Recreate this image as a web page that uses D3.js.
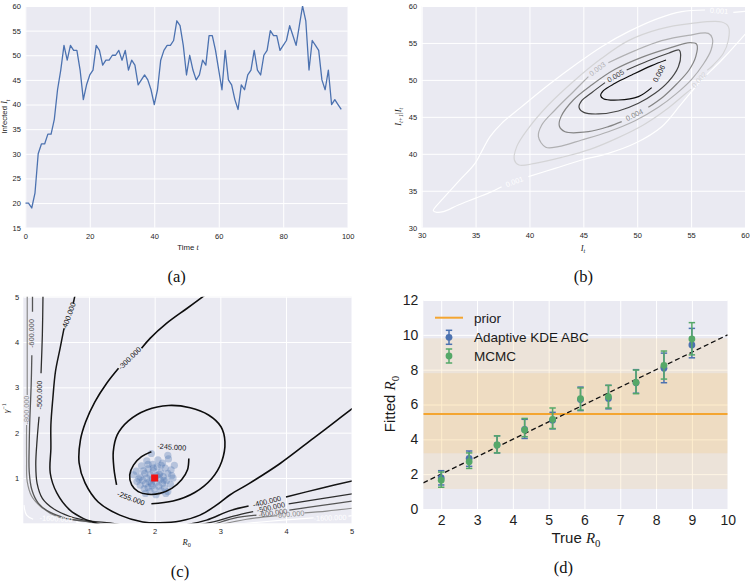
<!DOCTYPE html>
<html><head><meta charset="utf-8">
<script src="https://cdn.jsdelivr.net/npm/d3@7/dist/d3.min.js"></script>
<style>html,body{margin:0;padding:0;background:#fff;}svg{display:block;}</style>
</head><body>
<svg id="fig" width="750" height="582"></svg>
<script>
// ================= DATA =================
// (a) infected time series, t = 0..98
const infected = [20,20,19,22,30,32,32,34,34,37,43,47,52,49,52,51,51,47,41,44,
46,47,52,51,48,49,49,50,50,51,49,51,47,49,48,44,45,46,45,43,
40,43,49,51,52,52,53,57,56,52,46,50,47,45,46,49,48,54,54,51,
47,43,51,45,44,41,39,44,43,46,47,51,47,46,50,51,55,54,54,51,
52,53,56,54,52,56,60,57,47,53,52,51,45,43,47,40,41,40,39];
const aXTicks = [0,20,40,60,80,100];
const aYTicks = [15,20,25,30,35,40,45,50,55,60];

// (b) transition density contours, [I_t, I_{t+1}] vertices per segment
const bTicks = [30,35,40,45,50,55,60];
const b001 = [
 [[56.29,59.46],[54.13,59.23],[51.96,58.33],[49.18,56.53],[46.70,54.50],[44.23,52.02],[41.75,49.31],[39.28,46.38],[37.42,44.12],[36.34,42.32],[35.72,40.74],[34.95,38.71],[33.40,36.23],[31.86,33.75],[31.08,32.30],[31.39,32.08],[32.01,32.17],[33.40,33.07],[34.95,33.97],[36.50,34.88],[37.42,35.55]],
 [[39.90,36.91],[42.37,38.03],[44.85,39.16],[47.32,40.06],[49.80,41.42],[52.27,43.67],[54.13,46.83],[55.98,49.99],[57.84,52.69],[60.2,56.5]],
 [[58.92,59.14],[60.2,59.3]]];
const b001Lab = [[38.60,36.23,-20],[57.59,59.32,4]];
const b002 = [[[55.0,48.75],[54.44,48.09],[52.73,46.02],[50.57,43.90],[48.09,42.09],[45.62,40.60],[42.99,39.52],[40.52,38.71],[39.03,38.48],[38.60,39.16],[38.82,40.97],[39.90,43.45],[41.75,46.60],[44.23,49.99],[46.70,52.92],[49.18,55.31],[51.96,56.84],[55.05,57.65],[57.84,57.83],[58.46,57.20],[58.46,55.40],[57.99,53.60],[57.06,52.02],[56.5,51.3]]];
const b002Lab = [[55.75,50.0,-49]];
const b003 = [[[47.32,52.33],[49.80,53.96],[52.27,55.31],[54.74,56.03],[56.60,56.30],[56.97,55.62],[56.85,54.05],[56.14,52.15],[55.05,50.08],[53.66,48.18],[51.96,46.29],[49.80,44.48],[47.32,42.99],[44.85,41.87],[42.68,40.97],[41.51,40.88],[40.83,42.32],[41.14,43.90],[42.37,45.93],[44.23,48.63],[45.47,50.44]]];
const b003Lab = [[46.30,51.47,-36]];
const b004 = [[[51.03,46.29],[52.42,47.73],[53.66,49.44],[54.81,51.34],[55.43,53.14],[55.52,54.81],[54.90,55.04],[52.89,54.27],[50.41,53.05],[47.94,51.43],[45.77,49.31],[44.07,47.28],[42.93,45.03],[42.77,43.76],[43.30,42.99],[45.47,42.99],[47.32,43.67],[48.56,44.35]]];
const b004Lab = [[49.73,45.25,-26]];
const b005 = [[[49.02,51.34],[51.03,52.60],[52.89,53.60],[53.88,54.05],[54.03,53.37],[53.82,51.79],[52.89,49.76],[51.65,48.18],[50.11,46.83],[48.25,45.79],[46.39,45.39],[45.09,45.57],[44.60,46.29],[44.85,47.19],[45.77,48.27],[47.01,49.63]]];
const b005Lab = [[48.00,50.53,-30]];
const b006 = [[[52.67,52.69],[51.34,51.93],[49.49,50.66],[47.94,49.54],[46.86,48.54],[46.61,47.87],[46.86,47.46],[48.25,47.28],[50.11,47.73],[51.34,48.95]]];
const b006Lab = [[52.02,50.85,-62]];

// (c) log-likelihood contours over [R0, gamma^-1]
const cTicks = [1,2,3,4,5];
const c245 = [[[1.95,1.58],[1.80,1.47],[1.68,1.29],[1.62,1.07],[1.65,0.85],[1.75,0.70],[1.90,0.64],[2.08,0.66],[2.26,0.77],[2.41,0.96],[2.50,1.18],[2.52,1.43]]];
const c245Lab = [[2.26,1.68,4]];
const c255 = [[[1.95,0.43],[2.28,0.49],[2.61,0.68],[2.87,0.99],[3.02,1.36],[3.07,1.80],[3.01,2.13],[2.82,2.39],[2.54,2.55],[2.21,2.60],[1.88,2.50],[1.60,2.26],[1.43,1.95],[1.37,1.58],[1.38,1.21],[1.42,0.85]]];
const c255Lab = [[1.64,0.55,20]];
const c300 = [[[2.78,5.05],[2.49,4.74],[2.18,4.41],[1.93,4.08],[1.80,3.86]],
 [[1.45,3.42],[1.27,3.09],[1.09,2.68],[0.95,2.24],[0.87,1.84],[0.85,1.33],[0.94,0.89],[1.14,0.47],[1.47,0.18],[1.82,0.03],[2.08,0.01],[2.39,0.05],[2.69,0.18],[2.94,0.40],[3.15,0.63],[3.43,0.87],[3.91,1.32],[4.42,1.88],[4.72,2.21],[5.05,2.58]]];
const c300Lab = [[1.62,3.64,-45]];
const c400 = [[[0.79,5.05],[0.76,4.85]],
 [[0.62,4.30],[0.56,3.86],[0.49,3.35],[0.45,2.76],[0.42,2.17],[0.42,1.65],[0.41,1.11],[0.51,0.67],[0.71,0.29],[0.91,0.11],[1.06,0.03],[1.17,-0.03]],
 [[2.49,-0.03],[2.79,0.07],[3.15,0.28],[3.43,0.38]],
 [[4.0,0.58],[4.52,0.77],[5.05,0.95]]];
const c400Lab = [[0.69,4.57,-70],[3.71,0.48,-14]];
const c500 = [[[0.30,5.05],[0.29,4.15],[0.27,3.31]],
 [[0.24,2.35],[0.21,1.84],[0.19,1.29],[0.21,0.88],[0.29,0.55],[0.46,0.32],[0.71,0.15],[1.02,0.05],[1.32,0.01],[1.47,-0.03]],
 [[2.69,-0.03],[2.94,0.05],[3.20,0.16],[3.50,0.26]],
 [[4.04,0.43],[4.52,0.54],[5.05,0.66]]];
const c500Lab = [[0.25,2.83,-90],[3.77,0.35,-12]];
const c600 = [[[0.14,5.05],[0.14,4.67]],
 [[0.13,3.71],[0.12,3.05],[0.10,2.32],[0.09,1.73],[0.09,1.14],[0.13,0.74],[0.23,0.44],[0.41,0.24],[0.66,0.11],[1.02,0.03],[1.27,-0.03]],
 [[2.89,-0.03],[3.20,0.11],[3.55,0.18]],
 [[4.05,0.29],[4.52,0.39],[5.05,0.50]]];
const c600Lab = [[0.13,4.19,-90],[3.80,0.23,-8]];
const c800 = [[[0.06,5.05],[0.06,2.83]],
 [[0.05,2.17],[0.05,1.43],[0.06,0.92],[0.13,0.59],[0.28,0.35],[0.53,0.14],[0.91,0.05],[1.17,-0.03]],
 [[3.0,-0.03],[3.40,0.09],[3.86,0.17]],
 [[4.28,0.23],[4.62,0.27],[5.05,0.34]]];
const c800Lab = [[0.05,2.50,-90],[4.06,0.20,-5]];
const c1600 = [[[0.01,0.40],[0.05,0.18],[0.15,0.09]],
 [[0.80,0.03],[0.97,-0.03]],
 [[3.20,-0.03],[3.71,0.04],[4.31,0.11],[4.42,0.12]],
 [[4.95,0.16],[5.05,0.18]]];
const c1600Lab = [[0.50,0.10,3],[4.67,0.12,-2]];
// posterior samples (R0, gamma^-1) and true parameter
const postR0 = [1.95,2.20,2.21,2.05,1.88,2.12,1.97,2.30,1.80,2.04,2.16,1.90,2.25,1.72,1.98,2.09,1.85,2.20,1.68,1.93,2.03,2.13,1.78,1.88,2.28,1.97,2.08,1.82,2.18,1.73,1.92,2.02,2.12,1.86,2.24,1.78,1.96,2.06,1.90,2.15,1.84,2.00,2.10,1.93,2.20,2.17,1.86,2.02,1.98,2.10,1.83,2.00,1.95,2.07,1.76,2.26,1.90,2.14];
const postGammaInv = [1.54,1.50,1.42,1.40,1.38,1.33,1.30,1.28,1.27,1.25,1.22,1.20,1.18,1.15,1.15,1.12,1.10,1.10,1.07,1.07,1.05,1.03,1.02,1.00,1.00,0.98,0.97,0.95,0.94,0.92,0.92,0.90,0.88,0.87,0.86,0.84,0.83,0.82,0.79,0.78,0.76,0.75,0.72,0.70,0.70,0.66,0.66,0.63,1.22,1.28,1.16,1.00,0.88,1.08,0.98,1.05,1.30,0.95];
const trueParam = [2.0, 1.0];

// (d) fitted vs true R0
const dXTicks = [2,3,4,5,6,7,8,9,10];
const dYTicks = [0,2,4,6,8,10,12];
const trueR0 = [2.0,2.78,3.56,4.33,5.11,5.89,6.67,7.44,8.22,9.0];
const abcMean = [1.78,2.90,3.68,4.57,5.10,6.28,6.35,7.25,8.08,9.42];
const abcLow  = [1.38,2.45,3.22,4.05,4.60,5.65,5.75,6.65,7.25,8.68];
const abcHigh = [2.20,3.33,4.20,5.15,5.55,7.00,7.10,8.00,8.95,10.37];
const mcmcMean = [1.65,2.72,3.68,4.54,5.15,6.33,6.45,7.27,8.25,9.76];
const mcmcLow  = [1.25,2.33,3.22,4.15,4.62,5.68,5.80,6.62,7.46,8.85];
const mcmcHigh = [2.12,3.22,4.20,5.20,5.80,6.95,7.10,7.98,9.07,10.70];
const priorMean = 5.45;
const priorBand1 = [3.2, 7.8];
const priorBand2 = [1.15, 9.8];
const identityLine = [[1.5,1.5],[10,10]];

// ================= DRAWING =================
const SANS = "'Liberation Sans', Arial, Helvetica, sans-serif";
const SERIF = "'Liberation Serif', 'DejaVu Serif', serif";
const BG = "#EAEAF2";
const svg = d3.select("#fig");
let clipId = 0;

function frame(box, xDom, yDom, xTicks, yTicks, fs, xpad, ypad) {
  const x = d3.scaleLinear().domain(xDom).range([box.x0, box.x1]);
  const y = d3.scaleLinear().domain(yDom).range([box.y1, box.y0]);
  const g = svg.append("g");
  g.append("rect").attr("x", box.x0).attr("y", box.y0)
    .attr("width", box.x1 - box.x0).attr("height", box.y1 - box.y0).attr("fill", BG);
  const gx = g.append("g").attr("transform", `translate(0,${box.y1})`)
    .call(d3.axisBottom(x).tickValues(xTicks).tickSize(-(box.y1 - box.y0)).tickPadding(xpad).tickFormat(d3.format("d")));
  const gy = g.append("g").attr("transform", `translate(${box.x0},0)`)
    .call(d3.axisLeft(y).tickValues(yTicks).tickSize(-(box.x1 - box.x0)).tickPadding(ypad).tickFormat(d3.format("d")));
  [gx, gy].forEach(a => {
    a.select(".domain").remove();
    a.selectAll(".tick line").attr("stroke", "#fff").attr("stroke-width", 1);
    a.selectAll("text").attr("font-family", SANS).attr("font-size", fs).attr("fill", "#1e1e1e");
  });
  const id = "clip" + (clipId++);
  svg.append("clipPath").attr("id", id).append("rect")
    .attr("x", box.x0).attr("y", box.y0).attr("width", box.x1 - box.x0).attr("height", box.y1 - box.y0);
  const inner = g.append("g").attr("clip-path", `url(#${id})`);
  return {x, y, g, inner};
}

function mathText(x, y, parts, size, rotate, anchor) {
  const t = svg.append("text").attr("x", x).attr("y", y)
    .attr("text-anchor", anchor || "middle").attr("font-size", size)
    .attr("font-family", SANS).attr("fill", "#1a1a1a");
  if (rotate) t.attr("transform", `rotate(${rotate},${x},${y})`);
  let shift = 0;
  parts.forEach(p => {
    const ts = t.append("tspan").text(p.t);
    if (p.it) ts.attr("font-family", SERIF).attr("font-style", "italic");
    if (p.serif) ts.attr("font-family", SERIF);
    let target = 0;
    if (p.sub) { ts.attr("font-size", size * 0.72); target = size * 0.28; }
    else if (p.sup) { ts.attr("font-size", size * 0.72); target = -size * 0.38; }
    if (target - shift !== 0) ts.attr("dy", target - shift);
    shift = target;
  });
  return t;
}

function caption(x, y, s) {
  svg.append("text").attr("x", x).attr("y", y).attr("text-anchor", "middle")
    .attr("font-family", SERIF).attr("font-size", 16.5).attr("fill", "#111").text(s);
}

function contours(P, segs, labs, text, color, width) {
  const ln = d3.line().x(d => P.x(d[0])).y(d => P.y(d[1])).curve(d3.curveCatmullRom.alpha(0.5));
  P.inner.selectAll(null).data(segs).enter().append("path")
    .attr("d", ln).attr("fill", "none").attr("stroke", color).attr("stroke-width", width);
  labs.forEach(l => {
    const px = P.x(l[0]), py = P.y(l[1]);
    P.g.append("text").attr("x", px).attr("y", py)
      .attr("text-anchor", "middle").attr("dominant-baseline", "central")
      .attr("transform", `rotate(${l[2]},${px},${py})`)
      .attr("font-family", SANS).attr("font-size", 7.3).attr("fill", color).text(text);
  });
}

// ---------- (a) ----------
const A = frame({x0: 25.3, x1: 347.7, y0: 6, y1: 227.7}, [0, 100], [15, 60], aXTicks, aYTicks, 7.5, 6, 4.5);
A.inner.append("path").datum(infected)
  .attr("d", d3.line().x((d, i) => A.x(i)).y(d => A.y(d)))
  .attr("fill", "none").attr("stroke", "#4C72B0").attr("stroke-width", 1.3).attr("stroke-linejoin", "round");
mathText(188, 250, [{t: "Time "}, {t: "t", it: true}], 7.8);
mathText(7.5, 116.7, [{t: "Infected "}, {t: "I", it: true}, {t: "t", it: true, sub: true}], 7.8, -90);
caption(176.7, 282, "(a)");

// ---------- (b) ----------
const B = frame({x0: 421.7, x1: 745, y0: 6, y1: 227.7}, [30, 60], [30, 60], bTicks, bTicks, 7.5, 5, 4.5);
contours(B, b001, b001Lab, "0.001", "#ffffff", 1.2);
contours(B, b002, b002Lab, "0.002", "#d4d4d6", 1.2);
contours(B, b003, b003Lab, "0.003", "#b0b0b2", 1.2);
contours(B, b004, b004Lab, "0.004", "#858585", 1.2);
contours(B, b005, b005Lab, "0.005", "#454545", 1.2);
contours(B, b006, b006Lab, "0.006", "#0d0d0d", 1.2);
mathText(583, 250.5, [{t: "I", it: true}, {t: "t", it: true, sub: true}], 8.5);
mathText(401, 116.7, [{t: "I", it: true}, {t: "t+1", it: true, sub: true}, {t: "|", serif: true}, {t: "I", it: true}, {t: "t", it: true, sub: true}], 8.5, -90);
caption(583.3, 282, "(b)");

// ---------- (c) ----------
const C = frame({x0: 23.3, x1: 351.7, y0: 296.7, y1: 523.3}, [0, 5], [0, 5], cTicks, cTicks, 7.5, 5.5, 4.2);
C.inner.selectAll("circle").data(postR0).enter().append("circle")
  .attr("cx", d => C.x(d)).attr("cy", (d, i) => C.y(postGammaInv[i]))
  .attr("r", 3.6).attr("fill", "#4C72B0").attr("fill-opacity", 0.33);
contours(C, c1600, c1600Lab, "-1600.000", "#ffffff", 1.2);
contours(C, c800, c800Lab, "-800.000", "#8c8c8c", 1.2);
contours(C, c600, c600Lab, "-600.000", "#555555", 1.3);
contours(C, c500, c500Lab, "-500.000", "#2e2e2e", 1.3);
contours(C, c400, c400Lab, "-400.000", "#151515", 1.5);
contours(C, c300, c300Lab, "-300.000", "#0d0d0d", 1.6);
contours(C, c255, c255Lab, "-255.000", "#0d0d0d", 1.6);
contours(C, c245, c245Lab, "-245.000", "#0d0d0d", 1.6);
C.inner.append("rect").datum(trueParam)
  .attr("x", d => C.x(d[0]) - 3.5).attr("y", d => C.y(d[1]) - 3.5)
  .attr("width", 7).attr("height", 7).attr("fill", "#F01414");
mathText(186.7, 545, [{t: "R", it: true}, {t: "0", serif: true, sub: true}], 8.5);
mathText(9, 408, [{t: "γ", it: true}, {t: "−1", serif: true, sup: true}], 8.5, -90);
caption(180, 577, "(c)");

// ---------- (d) ----------
const D = frame({x0: 423.3, x1: 727.7, y0: 300, y1: 509}, [1.5, 10], [0, 12], dXTicks, dYTicks, 14, 6, 5);
const prior = "#F4A530";
[priorBand2, priorBand1].forEach(b => {
  D.inner.append("rect").attr("x", D.x(1.5)).attr("width", D.x(10) - D.x(1.5))
    .attr("y", D.y(b[1])).attr("height", D.y(b[0]) - D.y(b[1]))
    .attr("fill", "#FFA500").attr("fill-opacity", 0.1);
});
D.inner.append("line").attr("x1", D.x(1.5)).attr("x2", D.x(10))
  .attr("y1", D.y(priorMean)).attr("y2", D.y(priorMean)).attr("stroke", prior).attr("stroke-width", 2);
D.inner.append("path").datum(identityLine)
  .attr("d", d3.line().x(d => D.x(d[0])).y(d => D.y(d[1])))
  .attr("stroke", "#111").attr("stroke-width", 1.3).attr("stroke-dasharray", "5,3").attr("fill", "none");

function errSeries(mean, low, high, color) {
  const g = D.g.append("g");
  trueR0.forEach((tx, i) => {
    const px = D.x(tx);
    g.append("line").attr("x1", px).attr("x2", px).attr("y1", D.y(low[i])).attr("y2", D.y(high[i]))
      .attr("stroke", color).attr("stroke-width", 1.5);
    [low[i], high[i]].forEach(v => g.append("line").attr("x1", px - 3.2).attr("x2", px + 3.2)
      .attr("y1", D.y(v)).attr("y2", D.y(v)).attr("stroke", color).attr("stroke-width", 1.5));
    g.append("circle").attr("cx", px).attr("cy", D.y(mean[i])).attr("r", 3.4).attr("fill", color);
  });
}
errSeries(abcMean, abcLow, abcHigh, "#4C72B0");
errSeries(mcmcMean, mcmcLow, mcmcHigh, "#55A868");

// legend
const lg = svg.append("g").attr("font-family", SANS).attr("font-size", 13.5).attr("fill", "#1a1a1a");
lg.append("line").attr("x1", 435).attr("x2", 463).attr("y1", 317.7).attr("y2", 317.7).attr("stroke", prior).attr("stroke-width", 2);
lg.append("text").attr("x", 474).attr("y", 322.5).text("prior");
[["#4C72B0", 337.3, "Adaptive KDE ABC"], ["#55A868", 356, "MCMC"]].forEach(e => {
  const [c, yy, s] = e;
  lg.append("line").attr("x1", 449).attr("x2", 449).attr("y1", yy - 7).attr("y2", yy + 7).attr("stroke", c).attr("stroke-width", 1.5);
  lg.append("line").attr("x1", 445.8).attr("x2", 452.2).attr("y1", yy - 7).attr("y2", yy - 7).attr("stroke", c).attr("stroke-width", 1.5);
  lg.append("line").attr("x1", 445.8).attr("x2", 452.2).attr("y1", yy + 7).attr("y2", yy + 7).attr("stroke", c).attr("stroke-width", 1.5);
  lg.append("circle").attr("cx", 449).attr("cy", yy).attr("r", 3.4).attr("fill", c);
  lg.append("text").attr("x", 474).attr("y", yy + 4.8).text(s);
});
mathText(576, 543, [{t: "True "}, {t: "R", it: true}, {t: "0", serif: true, sub: true}], 15);
mathText(395, 404, [{t: "Fitted "}, {t: "R", it: true}, {t: "0", serif: true, sub: true}], 15, -90);
caption(563.3, 573, "(d)");
</script>
</body></html>
